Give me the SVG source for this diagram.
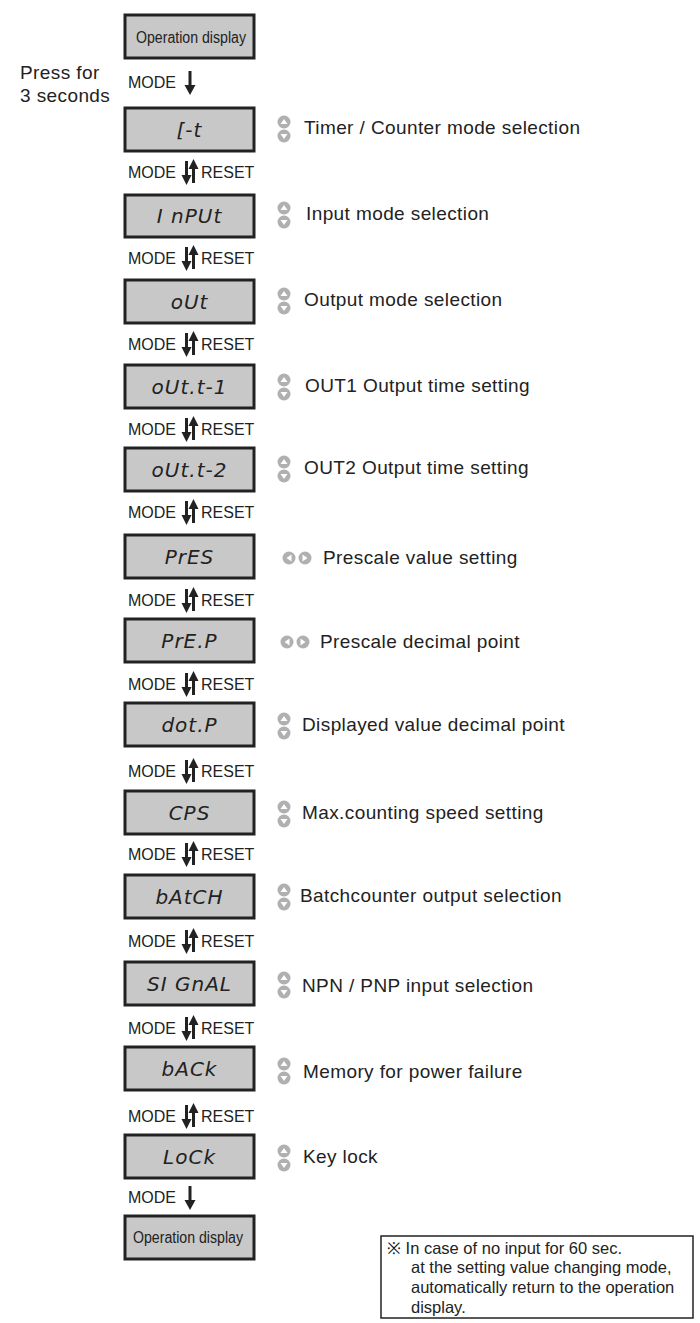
<svg xmlns="http://www.w3.org/2000/svg" width="700" height="1323" viewBox="0 0 700 1323">
<style>
.box{fill:#c8c8c8;stroke:#222;stroke-width:3}
.seg{font-family:"DejaVu Sans",sans-serif;font-style:italic;font-size:20px;fill:#222;text-anchor:middle;letter-spacing:1px}
.op{font-family:"Liberation Sans",sans-serif;font-size:16px;fill:#222}
.lbl{font-family:"Liberation Sans",sans-serif;font-size:16px;fill:#222}
.desc{font-family:"Liberation Sans",sans-serif;font-size:19px;fill:#222;letter-spacing:0.4px}
.note{font-family:"Liberation Sans",sans-serif;font-size:16.5px;fill:#222}
.ic{fill:#b0b0b0}
</style>
<defs>
<g id="ud"><circle cx="0" cy="-7" r="6.5" class="ic"/><path d="M-3.5,-5 L0,-10 L3.5,-5Z" fill="#fff"/><circle cx="0" cy="7" r="6.5" class="ic"/><path d="M-3.5,5 L0,10 L3.5,5Z" fill="#fff"/></g>
<g id="lr"><circle cx="-8" cy="0" r="6.5" class="ic"/><path d="M-5.5,-3.5 L-10.5,0 L-5.5,3.5Z" fill="#fff"/><circle cx="8" cy="0" r="6.5" class="ic"/><path d="M5.5,-3.5 L10.5,0 L5.5,3.5Z" fill="#fff"/></g>
<g id="dn"><path d="M0,-12 V7" stroke="#222" stroke-width="3"/><path d="M-5.5,2 L0,12 L5.5,2Z" fill="#222"/></g>
<g id="ud2"><path d="M-3.5,-11 V8" stroke="#222" stroke-width="3"/><path d="M-8.5,3 L-3.5,13 L1.5,3Z" fill="#222"/><path d="M3.5,-8 V11" stroke="#222" stroke-width="3"/><path d="M-1.5,-3 L3.5,-13 L8.5,-3Z" fill="#222"/></g>
</defs>
<text class="desc" x="20" y="79">Press for</text>
<text class="desc" x="20" y="102">3 seconds</text>
<g id="connectors">
<text class="lbl" x="128" y="88">MODE</text><use href="#dn" x="190" y="83"/>
<g id="pairs">
<text class="lbl" x="128" y="178">MODE</text><use href="#ud2" x="190" y="172"/><text class="lbl" x="201" y="178">RESET</text>
<text class="lbl" x="128" y="264">MODE</text><use href="#ud2" x="190" y="258"/><text class="lbl" x="201" y="264">RESET</text>
<text class="lbl" x="128" y="350">MODE</text><use href="#ud2" x="190" y="344"/><text class="lbl" x="201" y="350">RESET</text>
<text class="lbl" x="128" y="435">MODE</text><use href="#ud2" x="190" y="429"/><text class="lbl" x="201" y="435">RESET</text>
<text class="lbl" x="128" y="518">MODE</text><use href="#ud2" x="190" y="512"/><text class="lbl" x="201" y="518">RESET</text>
<text class="lbl" x="128" y="606">MODE</text><use href="#ud2" x="190" y="600"/><text class="lbl" x="201" y="606">RESET</text>
<text class="lbl" x="128" y="690">MODE</text><use href="#ud2" x="190" y="684"/><text class="lbl" x="201" y="690">RESET</text>
<text class="lbl" x="128" y="777">MODE</text><use href="#ud2" x="190" y="771"/><text class="lbl" x="201" y="777">RESET</text>
<text class="lbl" x="128" y="860">MODE</text><use href="#ud2" x="190" y="854"/><text class="lbl" x="201" y="860">RESET</text>
<text class="lbl" x="128" y="947">MODE</text><use href="#ud2" x="190" y="941"/><text class="lbl" x="201" y="947">RESET</text>
<text class="lbl" x="128" y="1034">MODE</text><use href="#ud2" x="190" y="1028"/><text class="lbl" x="201" y="1034">RESET</text>
<text class="lbl" x="128" y="1122">MODE</text><use href="#ud2" x="190" y="1116"/><text class="lbl" x="201" y="1122">RESET</text>
</g>
<text class="lbl" x="128" y="1203">MODE</text><use href="#dn" x="190" y="1198"/>
</g>
<g id="op1"><rect class="box" x="125" y="15" width="129" height="43"/><text class="op" x="136" y="43" textLength="110" lengthAdjust="spacingAndGlyphs">Operation display</text></g>
<g id="n1"><rect class="box" x="125" y="108" width="129" height="43"/><text class="seg" x="189.5" y="137">[-t</text><use href="#ud" x="284" y="129"/><text class="desc" x="304" y="134">Timer / Counter mode selection</text></g>
<g id="n2"><rect class="box" x="125" y="195" width="129" height="42"/><text class="seg" x="189.5" y="223">I nPUt</text><use href="#ud" x="284" y="215"/><text class="desc" x="306" y="220">Input mode selection</text></g>
<g id="n3"><rect class="box" x="125" y="280" width="129" height="43"/><text class="seg" x="189.5" y="309">oUt</text><use href="#ud" x="284" y="301"/><text class="desc" x="304" y="306">Output mode selection</text></g>
<g id="n4"><rect class="box" x="125" y="365" width="129" height="43"/><text class="seg" x="189.5" y="394">oUt.t-1</text><use href="#ud" x="284" y="387"/><text class="desc" x="305" y="392">OUT1 Output time setting</text></g>
<g id="n5"><rect class="box" x="125" y="448" width="129" height="43"/><text class="seg" x="189.5" y="477">oUt.t-2</text><use href="#ud" x="284" y="469"/><text class="desc" x="304" y="474">OUT2  Output time setting</text></g>
<g id="n6"><rect class="box" x="125" y="535" width="129" height="43"/><text class="seg" x="189.5" y="564">PrES</text><use href="#lr" x="297" y="558"/><text class="desc" x="323" y="564">Prescale value setting</text></g>
<g id="n7"><rect class="box" x="125" y="619" width="129" height="43"/><text class="seg" x="189.5" y="648">PrE.P</text><use href="#lr" x="295" y="642"/><text class="desc" x="320" y="648">Prescale decimal point</text></g>
<g id="n8"><rect class="box" x="125" y="703" width="129" height="43"/><text class="seg" x="189.5" y="732">dot.P</text><use href="#ud" x="284" y="726"/><text class="desc" x="302" y="731">Displayed value decimal point</text></g>
<g id="n9"><rect class="box" x="125" y="791" width="129" height="43"/><text class="seg" x="189.5" y="820">CPS</text><use href="#ud" x="284" y="814"/><text class="desc" x="302" y="819">Max.counting speed setting</text></g>
<g id="n10"><rect class="box" x="125" y="875" width="129" height="43"/><text class="seg" x="189.5" y="904">bAtCH</text><use href="#ud" x="284" y="897"/><text class="desc" x="300" y="902">Batchcounter output selection</text></g>
<g id="n11"><rect class="box" x="125" y="962" width="129" height="43"/><text class="seg" x="189.5" y="991">SI GnAL</text><use href="#ud" x="284" y="985"/><text class="desc" x="302" y="992">NPN / PNP  input selection</text></g>
<g id="n12"><rect class="box" x="125" y="1047" width="129" height="43"/><text class="seg" x="189.5" y="1076">bACk</text><use href="#ud" x="284" y="1071"/><text class="desc" x="303" y="1078">Memory for power failure</text></g>
<g id="n13"><rect class="box" x="125" y="1135" width="129" height="43"/><text class="seg" x="189.5" y="1164">LoCk</text><use href="#ud" x="284" y="1158"/><text class="desc" x="303" y="1163">Key lock</text></g>
<g id="op2"><rect class="box" x="125" y="1216" width="129" height="43"/><text class="op" x="133" y="1243" textLength="110" lengthAdjust="spacingAndGlyphs">Operation display</text></g>
<g id="note"><rect x="381" y="1236" width="312" height="82" fill="#fff" stroke="#222" stroke-width="1.5"/>
<text class="note" x="387" y="1254">※ In case of no input for 60 sec.</text>
<text class="note" x="411" y="1273">at the setting value changing mode,</text>
<text class="note" x="411" y="1293">automatically return to the operation</text>
<text class="note" x="411" y="1313">display.</text></g>
</svg>
